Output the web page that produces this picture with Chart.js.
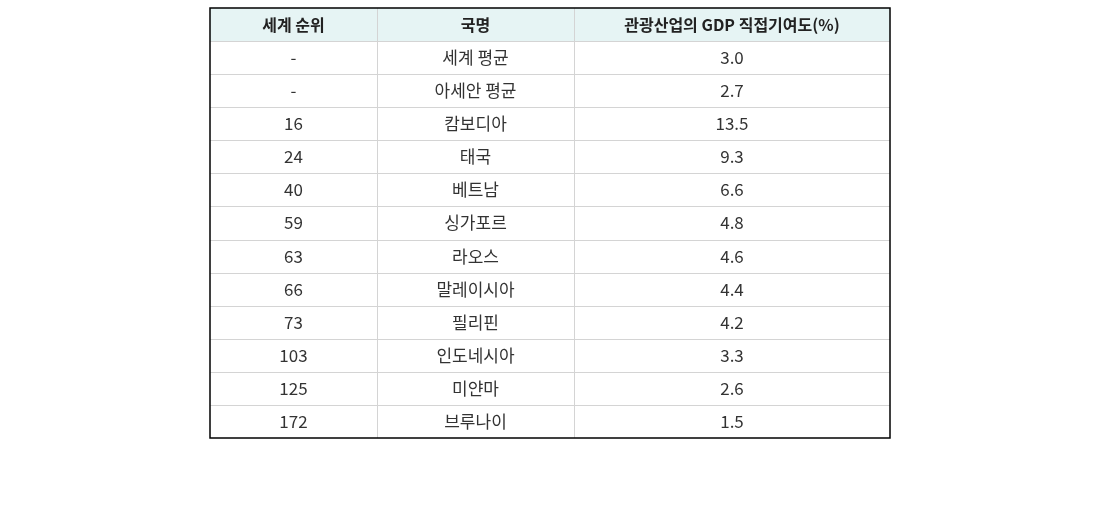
<!DOCTYPE html>
<html>
<head>
<meta charset="utf-8">
<script src="https://cdn.jsdelivr.net/npm/chart.js@4/dist/chart.umd.min.js"></script>
<style>
  body { margin: 0; background: #fff; }
  #wrap { width: 1100px; height: 520px; }
</style>
</head>
<body>
<div id="wrap"><canvas id="tbl"></canvas></div>
<script>
// 표 데이터
const headers = ["세계 순위", "국명", "관광산업의 GDP 직접기여도(%)"];
const ranks = ["-", "-", "16", "24", "40", "59", "63", "66", "73", "103", "125", "172"];
const countries = ["세계 평균", "아세안 평균", "캄보디아", "태국", "베트남", "싱가포르", "라오스", "말레이시아", "필리핀", "인도네시아", "미얀마", "브루나이"];
const values = ["3.0", "2.7", "13.5", "9.3", "6.6", "4.8", "4.6", "4.4", "4.2", "3.3", "2.6", "1.5"];

// 열 경계 (x축 값)
const colEdges = [0, 167, 364, 680];
const rowLabels = ["header"].concat(countries);

const tablePlugin = {
  id: "tablePlugin",
  afterDraw(chart) {
    const { ctx, scales: { x, y }, chartArea: a } = chart;
    const half = (y.getPixelForValue(1) - y.getPixelForValue(0)) / 2;
    ctx.save();
    // 헤더 배경
    ctx.fillStyle = "#e6f4f4";
    ctx.fillRect(a.left, y.getPixelForValue(0) - half, a.right - a.left, half * 2);
    // 격자선
    ctx.strokeStyle = "#d4d4d4";
    ctx.lineWidth = 1;
    for (let i = 1; i < rowLabels.length; i++) {
      const yy = Math.round(y.getPixelForValue(i) - half) + 0.5;
      ctx.beginPath(); ctx.moveTo(a.left, yy); ctx.lineTo(a.right, yy); ctx.stroke();
    }
    for (let c = 1; c < colEdges.length - 1; c++) {
      const xx = Math.round(x.getPixelForValue(colEdges[c])) + 0.5;
      ctx.beginPath(); ctx.moveTo(xx, a.top); ctx.lineTo(xx, a.bottom); ctx.stroke();
    }
    // 외곽선
    ctx.strokeStyle = "#000";
    ctx.lineWidth = 1.5;
    ctx.strokeRect(a.left, a.top, a.right - a.left, a.bottom - a.top);
    // 텍스트
    ctx.textAlign = "center";
    ctx.textBaseline = "middle";
    ctx.fillStyle = "#222";
    const colCenter = c => x.getPixelForValue((colEdges[c] + colEdges[c + 1]) / 2);
    ctx.font = "bold 16px 'Noto Sans CJK KR', 'Noto Sans', sans-serif";
    headers.forEach((h, c) => ctx.fillText(h, colCenter(c), y.getPixelForValue(0)));
    ctx.font = "17px 'Noto Sans CJK KR', 'Noto Sans', sans-serif";
    ctx.fillStyle = "#333";
    for (let r = 0; r < countries.length; r++) {
      const yy = y.getPixelForValue(r + 1);
      ctx.fillText(ranks[r], colCenter(0), yy);
      ctx.fillText(countries[r], colCenter(1), yy);
      ctx.fillText(values[r], colCenter(2), yy);
    }
    ctx.restore();
  }
};

new Chart(document.getElementById("tbl"), {
  type: "bar",
  data: { labels: rowLabels, datasets: [] },
  options: {
    responsive: true,
    maintainAspectRatio: false,
    animation: false,
    layout: { padding: { left: 210, right: 210, top: 8, bottom: 82 } },
    plugins: { legend: { display: false }, tooltip: { enabled: false } },
    scales: {
      x: { type: "linear", offset: false, min: colEdges[0], max: colEdges[colEdges.length - 1], display: false },
      y: { type: "category", offset: true, display: false }
    }
  },
  plugins: [tablePlugin]
});
</script>
</body>
</html>
